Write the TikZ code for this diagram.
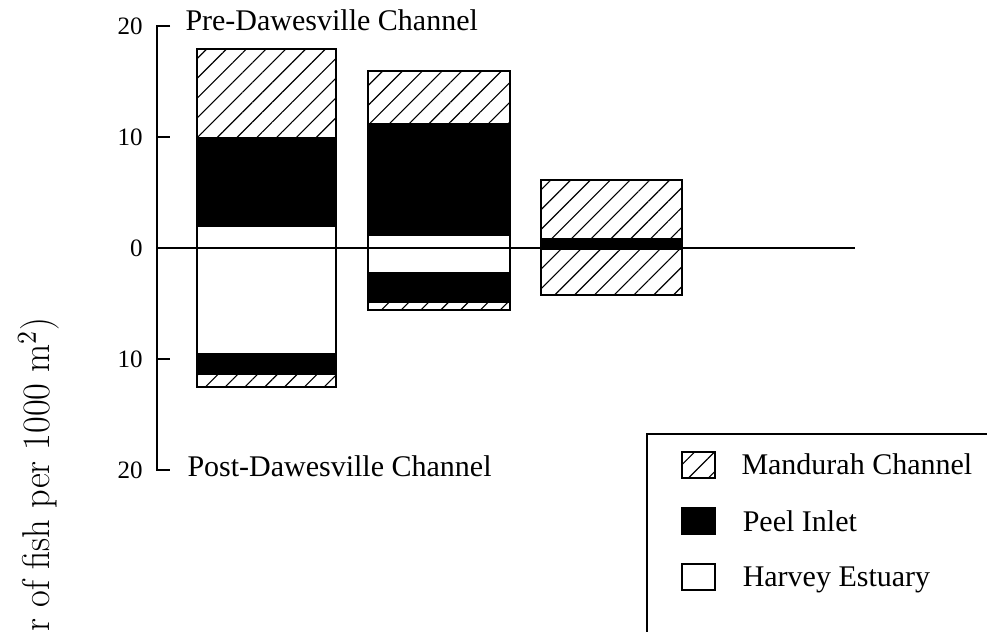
\documentclass[tikz,border=0pt]{standalone}
\usepackage{fontspec}
\usepackage{graphicx}
\newfontfamily\timesfont{Liberation Serif}
\usetikzlibrary{patterns.meta,positioning}

\tikzset{
  hatch/.style={pattern={Lines[angle=45,distance=5.6pt,line width=0.45pt]}},
  barline/.style={line width=0.8pt},
  axisline/.style={line width=0.8pt},
  ticklabel/.style={anchor=east,inner sep=0pt,font=\timesfont\fontsize{10}{12}\selectfont},
  charttitle/.style={anchor=base west,inner sep=0pt,font=\timesfont\fontsize{12}{14}\selectfont},
  legbox/.style={draw,line width=0.8pt,minimum width=13.2pt,minimum height=10.4pt,inner sep=0pt},
  legtext/.style={inner sep=0pt,text height=8pt,text depth=0pt,font=\timesfont\fontsize{12}{14}\selectfont}
}

\begin{document}
\begin{tikzpicture}[x=0.4pt,y=4.44pt]
  \useasboundingbox (0,-34.59) rectangle (987,22.34);
  \clip (0,-34.59) rectangle (987,22.34);

  % bar 1
  \fill[hatch] (197,10) rectangle (336,17.9);
  \fill (197,1.9) rectangle (336,10);
  \fill (197,-11.4) rectangle (336,-9.5);
  \fill[hatch] (197,-12.5) rectangle (336,-11.4);
  \draw[barline] (197,-12.5) rectangle (336,17.9);

  % bar 2
  \fill[hatch] (368,11.3) rectangle (510,15.9);
  \fill (368,1.1) rectangle (510,11.3);
  \fill (368,-5.0) rectangle (510,-2.2);
  \fill[hatch] (368,-5.6) rectangle (510,-5.0);
  \draw[barline] (368,-5.6) rectangle (510,15.9);

  % bar 3
  \fill[hatch] (541,0.9) rectangle (682,6.1);
  \fill (541,-0.15) rectangle (682,0.9);
  \fill[hatch] (541,-4.2) rectangle (682,-0.15);
  \draw[barline] (541,-4.2) rectangle (682,6.1);

  % axis
  \draw[axisline] (170,20) -- (157,20) -- (157,-20) -- (170,-20);
  \draw[axisline] (157,0) -- (855,0);
  \foreach \v/\t in {20/20,10/10,0/0,-10/10,-20/20}{
    \ifnum\v=0\else\ifnum\v=20\else\ifnum\v=-20\else
      \draw[axisline] (157,\v) -- (170,\v);
    \fi\fi\fi
    \node[ticklabel] (tick\t\v) at (143,\v) {\t};
  }

  \node[charttitle] (pre) at (185,19.55) {Pre-Dawesville Channel};
  \node[charttitle] (post) at (187,-20.63) {Post-Dawesville Channel};

  \node[rotate=90,anchor=base east,inner sep=0pt] (ylab) at (49,-6.2)
    {\scalebox{0.94}[1]{\fontsize{15.5}{18}\selectfont r of fish per 1000 m$^{2}$)}};

  % legend
  \draw[barline] (647,-40) -- (647,-16.76) -- (1000,-16.76);
  \node[legbox,hatch] (mand) at (698.5,-19.55) {};
  \node[legbox,fill=black] (peel) at (698.5,-24.64) {};
  \node[legbox] (harv) at (698.5,-29.64) {};
  \node[legtext,right=10pt of mand] (mandtext) {Mandurah Channel};
  \node[legtext,right=10.5pt of peel] (peeltext) {Peel Inlet};
  \node[legtext,right=10.5pt of harv] (harvtext) {Harvey Estuary};
\end{tikzpicture}
\end{document}
